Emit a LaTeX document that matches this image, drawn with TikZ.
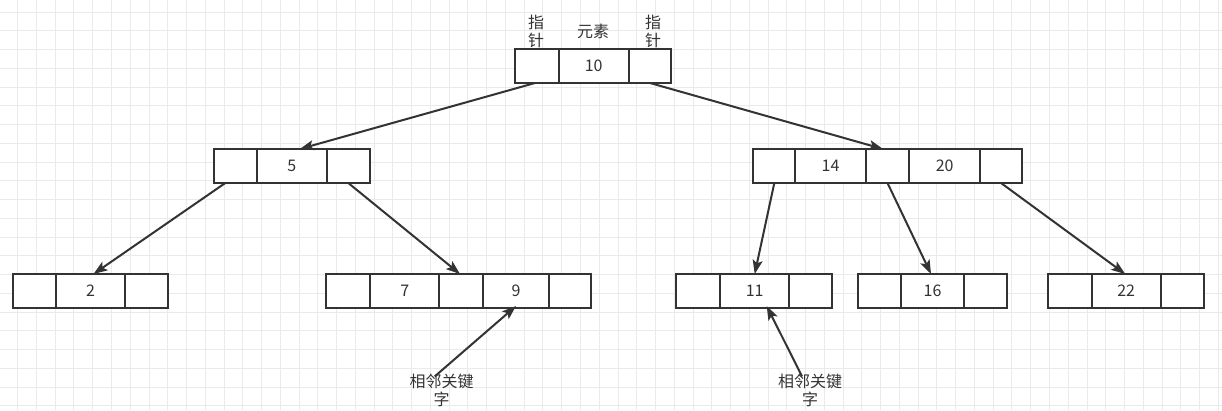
\documentclass[tikz,border=0pt]{standalone}
\usepackage{fontspec}
\setmainfont{Noto Sans CJK SC}
\usetikzlibrary{arrows.meta}
\definecolor{ink}{HTML}{333333}
\definecolor{gridc}{HTML}{EAEAEA}
\begin{document}
\begin{tikzpicture}[x=1pt,y=-1pt,
  cell/.style={draw=ink, fill=white, line width=2pt, minimum height=34pt, minimum width=#1, inner sep=0pt, outer sep=0pt, text=ink, font=\fontsize{16}{18}\selectfont},
  link/.style={draw=ink, line width=2pt, -{Stealth[length=14pt,width=10pt,inset=3pt]}},
  lbl/.style={text=ink, font=\fontsize{16}{18}\selectfont, align=center, inner sep=0pt}]
% background and grid
\fill[white] (0,0) rectangle (1222,410);
\useasboundingbox (0,0) rectangle (1222,410);
\foreach \k in {0,...,64} {\draw[gridc, line width=1pt] ({17.7+\k*18.76},0) -- ({17.7+\k*18.76},410);}
\foreach \k in {0,...,21} {\draw[gridc, line width=1pt] (0,{12+\k*18.76}) -- (1222,{12+\k*18.76});}
% root
\node[cell=43.7pt] (r1) at (537,66) {};
\node[cell=70pt]   (r2) at (593.7,66) {10};
\node[cell=42.3pt] (r3) at (650,66) {};
\node[lbl] (p1) at (536,31) {指\\针};
\node[lbl] (el) at (593,31) {元素};
\node[lbl] (p2) at (653,31) {指\\针};
% level 2
\node[cell=42.7pt] (a1) at (235.3,166) {};
\node[cell=70.3pt] (a2) at (291.8,166) {5};
\node[cell=42.7pt] (a3) at (348.3,166) {};
\node[cell=42pt]   (b1) at (774.3,166) {};
\node[cell=70.4pt] (b2) at (830.5,166) {14};
\node[cell=43.6pt] (b3) at (887.5,166) {};
\node[cell=70.7pt] (b4) at (944.7,166) {20};
\node[cell=42pt]   (b5) at (1001,166) {};
% level 3
\node[cell=42.4pt] (c1) at (34.5,291) {};
\node[cell=69.6pt] (c2) at (90.5,291) {2};
\node[cell=42.7pt] (c3) at (146.7,291) {};
\node[cell=44pt]   (d1) at (348,291) {};
\node[cell=69.3pt] (d2) at (404.7,291) {7};
\node[cell=43.4pt] (d3) at (461,291) {};
\node[cell=66.6pt] (d4) at (516,291) {9};
\node[cell=41.4pt] (d5) at (570,291) {};
\node[cell=44pt]   (e1) at (698,291) {};
\node[cell=69.3pt] (e2) at (754.7,291) {11};
\node[cell=42.4pt] (e3) at (810.5,291) {};
\node[cell=43pt]   (f1) at (879.2,291) {};
\node[cell=63.6pt] (f2) at (932.5,291) {16};
\node[cell=43pt]   (f3) at (985.8,291) {};
\node[cell=43.4pt] (g1) at (1070,291) {};
\node[cell=69pt]   (g2) at (1126.2,291) {22};
\node[cell=43.3pt] (g3) at (1182.3,291) {};
% labels
\node[lbl] (k1) at (441.7,390) {相邻关键\\字};
\node[lbl] (k2) at (810,390) {相邻关键\\字};
% connectors
\draw[link] ([xshift=-2pt]r1.south) -- ([xshift=8pt]a2.north);
\draw[link] (r3.south) -- ([xshift=-4.5pt]b3.north);
\draw[link] ([xshift=-10pt]a1.south) -- ([xshift=3pt]c2.north);
\draw[link] (a3.south) -- ([xshift=-1pt]d3.north);
\draw[link] (b1.south) -- (e2.north);
\draw[link] (b3.south) -- ([xshift=-1.5pt]f2.north);
\draw[link] (b5.south) -- ([xshift=-1pt]g2.north);
\draw[link] ([xshift=-7pt,yshift=-3pt]k1.north) -- ([yshift=2pt]d4.south);
\draw[link] ([xshift=-8pt,yshift=-3pt]k2.north) -- ([xshift=12pt,yshift=2pt]e2.south);
\end{tikzpicture}
\end{document}
